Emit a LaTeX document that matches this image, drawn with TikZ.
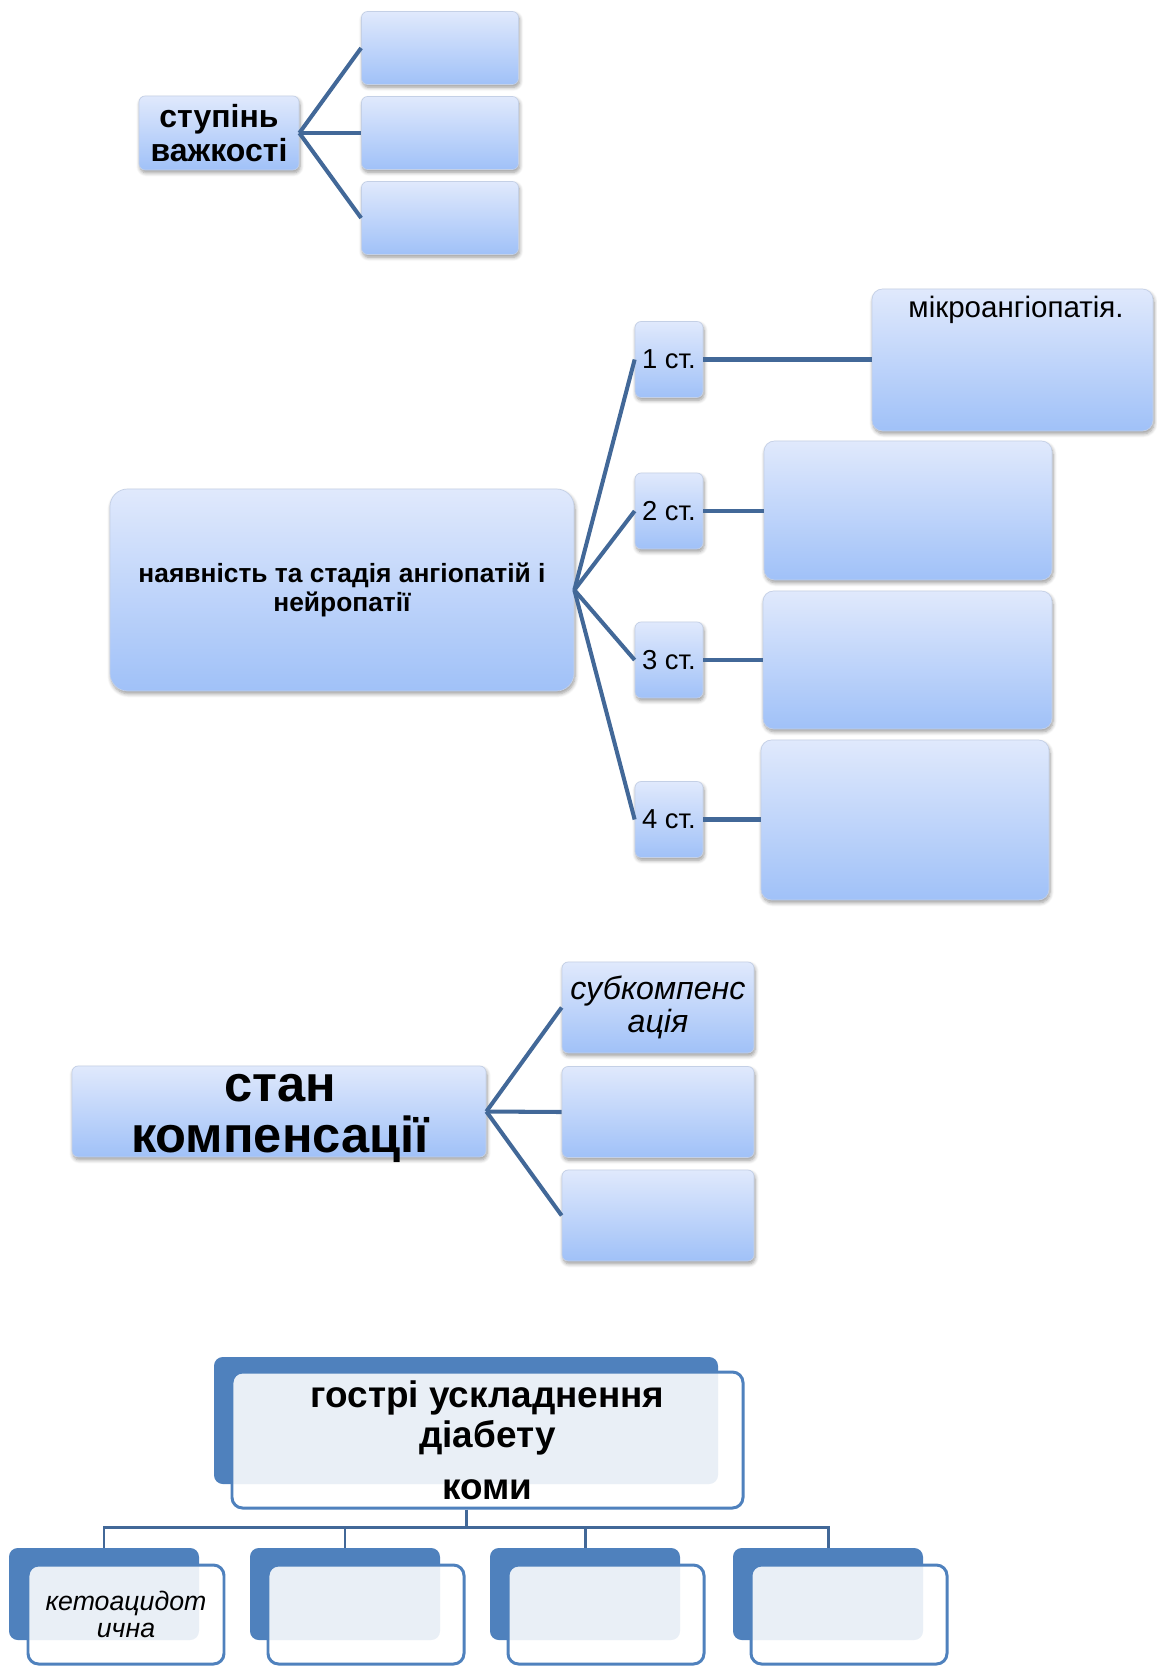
\documentclass[tikz,border=0pt]{standalone}
\usepackage{fontspec}
\setmainfont{Liberation Sans}
\usepackage{tikz}
\usetikzlibrary{positioning,calc,shadows.blur}

\definecolor{boxtop}{RGB}{224,233,252}
\definecolor{boxbot}{RGB}{160,193,248}
\definecolor{boxedge}{RGB}{196,208,230}
\definecolor{linkblue}{RGB}{66,104,152}
\definecolor{smartblue}{RGB}{79,129,189}

\begin{document}
\begin{tikzpicture}[
  pbox/.style={draw=boxedge, top color=boxtop, bottom color=boxbot,
    rounded corners=3.5pt, inner sep=0pt, align=center,
    blur shadow={shadow xshift=0.6pt, shadow yshift=-1.6pt,
      shadow blur steps=6, shadow opacity=40}},
  link/.style={linkblue, line width=2.3pt},
  backbox/.style={fill=smartblue, rounded corners=5pt, inner sep=0pt},
  frontbox/.style={draw=smartblue, line width=1.7pt, fill=white,
    fill opacity=0.88, text opacity=1, rounded corners=6pt,
    inner sep=0pt, align=center},
  bus/.style={linkblue, line width=1.7pt},
]
\useasboundingbox (0,0) rectangle (23.12,-33.34);

%% ступінь важкості
\node[pbox, minimum width=3.2cm, minimum height=1.48cm,
  font=\fontsize{18.2}{19.5}\selectfont\bfseries] (sv) at (4.38,-2.66)
  {ступінь\\важкості};
\node[pbox, minimum width=3.14cm, minimum height=1.46cm] (sv1) at (8.80,-0.96) {};
\node[pbox, minimum width=3.14cm, minimum height=1.46cm] (sv2) at (8.80,-2.66) {};
\node[pbox, minimum width=3.14cm, minimum height=1.46cm] (sv3) at (8.80,-4.36) {};

\draw[link] (sv.east) -- (sv1.west);
\draw[link] (sv.east) -- (sv2.west);
\draw[link] (sv.east) -- (sv3.west);

%% ангіопатії
\node[pbox, rounded corners=10pt, minimum width=9.28cm, minimum height=4.04cm,
  font=\fontsize{15}{16.5}\selectfont\bfseries] (ang) at (6.84,-11.80)
  {наявність та стадія ангіопатій і\\нейропатії};
\node[pbox, minimum width=1.36cm, minimum height=1.52cm,
  font=\fontsize{15.6}{17}\selectfont] (st1) at (13.38,-7.19) {1 ст.};
\node[pbox, minimum width=1.36cm, minimum height=1.52cm,
  font=\fontsize{15.6}{17}\selectfont] (st2) at (13.38,-10.22) {2 ст.};
\node[pbox, minimum width=1.36cm, minimum height=1.52cm,
  font=\fontsize{15.6}{17}\selectfont] (st3) at (13.38,-13.20) {3 ст.};
\node[pbox, minimum width=1.36cm, minimum height=1.52cm,
  font=\fontsize{15.6}{17}\selectfont] (st4) at (13.38,-16.39) {4 ст.};

\node[pbox, rounded corners=6pt, minimum width=5.62cm, minimum height=2.84cm] (d1) at (20.25,-7.20) {};
\node[font=\fontsize{16.8}{18}\selectfont] (d1t) at (20.32,-6.20) {мікроангіопатія.};
\node[pbox, rounded corners=6pt, minimum width=5.76cm, minimum height=2.78cm] (d2) at (18.16,-10.21) {};
\node[pbox, rounded corners=6pt, minimum width=5.78cm, minimum height=2.76cm] (d3) at (18.15,-13.20) {};
\node[pbox, rounded corners=6pt, minimum width=5.76cm, minimum height=3.20cm] (d4) at (18.10,-16.40) {};

\draw[link] (ang.east) -- (st1.west);
\draw[link] (ang.east) -- (st2.west);
\draw[link] (ang.east) -- (st3.west);
\draw[link] (ang.east) -- (st4.west);
\draw[link] (st1.east) -- (st1.east -| d1.west);
\draw[link] (st2.east) -- (st2.east -| d2.west);
\draw[link] (st3.east) -- (st3.east -| d3.west);
\draw[link] (st4.east) -- (st4.east -| d4.west);

%% стан компенсації
\node[pbox, minimum width=8.28cm, minimum height=1.82cm] (comp) at (5.58,-22.23) {};
\node[font=\fontsize{28.8}{29}\selectfont\bfseries, align=center, inner sep=0pt]
  (compt) at (5.60,-22.37) {стан\\компенсації};
\node[pbox, minimum width=3.84cm, minimum height=1.82cm,
  font=\fontsize{18.3}{19}\selectfont\itshape] (cp1) at (13.16,-20.15) {субкомпенс\\ація};
\node[pbox, minimum width=3.84cm, minimum height=1.82cm] (cp2) at (13.16,-22.24) {};
\node[pbox, minimum width=3.84cm, minimum height=1.82cm] (cp3) at (13.16,-24.31) {};

\draw[link] (comp.east) -- (cp1.west);
\draw[link] (comp.east) -- (cp2.west);
\draw[link] (comp.east) -- (cp3.west);

%% гострі ускладнення
\node[backbox, minimum width=10.08cm, minimum height=2.54cm] (acb) at (9.32,-28.41) {};
\node[frontbox, minimum width=10.22cm, minimum height=2.72cm,
  font=\fontsize{21}{22.8}\selectfont\bfseries] (ac) at (9.75,-28.80)
  {гострі ускладнення\\діабету\\[6.8pt]коми};
\coordinate (hub) at (9.32,-30.54);

\node[backbox, minimum width=3.80cm, minimum height=1.84cm] (k1b) at (2.08,-31.88) {};
\node[frontbox, minimum width=3.92cm, minimum height=1.98cm,
  font=\fontsize{15.2}{15.7}\selectfont\itshape] (k1) at (2.52,-32.29) {кетоацидот\\ична};
\node[backbox, minimum width=3.80cm, minimum height=1.84cm] (k2b) at (6.90,-31.88) {};
\node[frontbox, minimum width=3.92cm, minimum height=1.98cm] (k2) at (7.32,-32.29) {};
\node[backbox, minimum width=3.80cm, minimum height=1.84cm] (k3b) at (11.70,-31.88) {};
\node[frontbox, minimum width=3.92cm, minimum height=1.98cm] (k3) at (12.12,-32.29) {};
\node[backbox, minimum width=3.80cm, minimum height=1.84cm] (k4b) at (16.56,-31.88) {};
\node[frontbox, minimum width=3.92cm, minimum height=1.98cm] (k4) at (16.98,-32.29) {};

\draw[bus] (ac.south -| acb.center) -- (hub);
\draw[bus] (k1b.north) |- (hub);
\draw[bus] (k2b.north) |- (hub);
\draw[bus] (k3b.north) |- (hub);
\draw[bus] (k4b.north) |- (hub);

\end{tikzpicture}
\end{document}
